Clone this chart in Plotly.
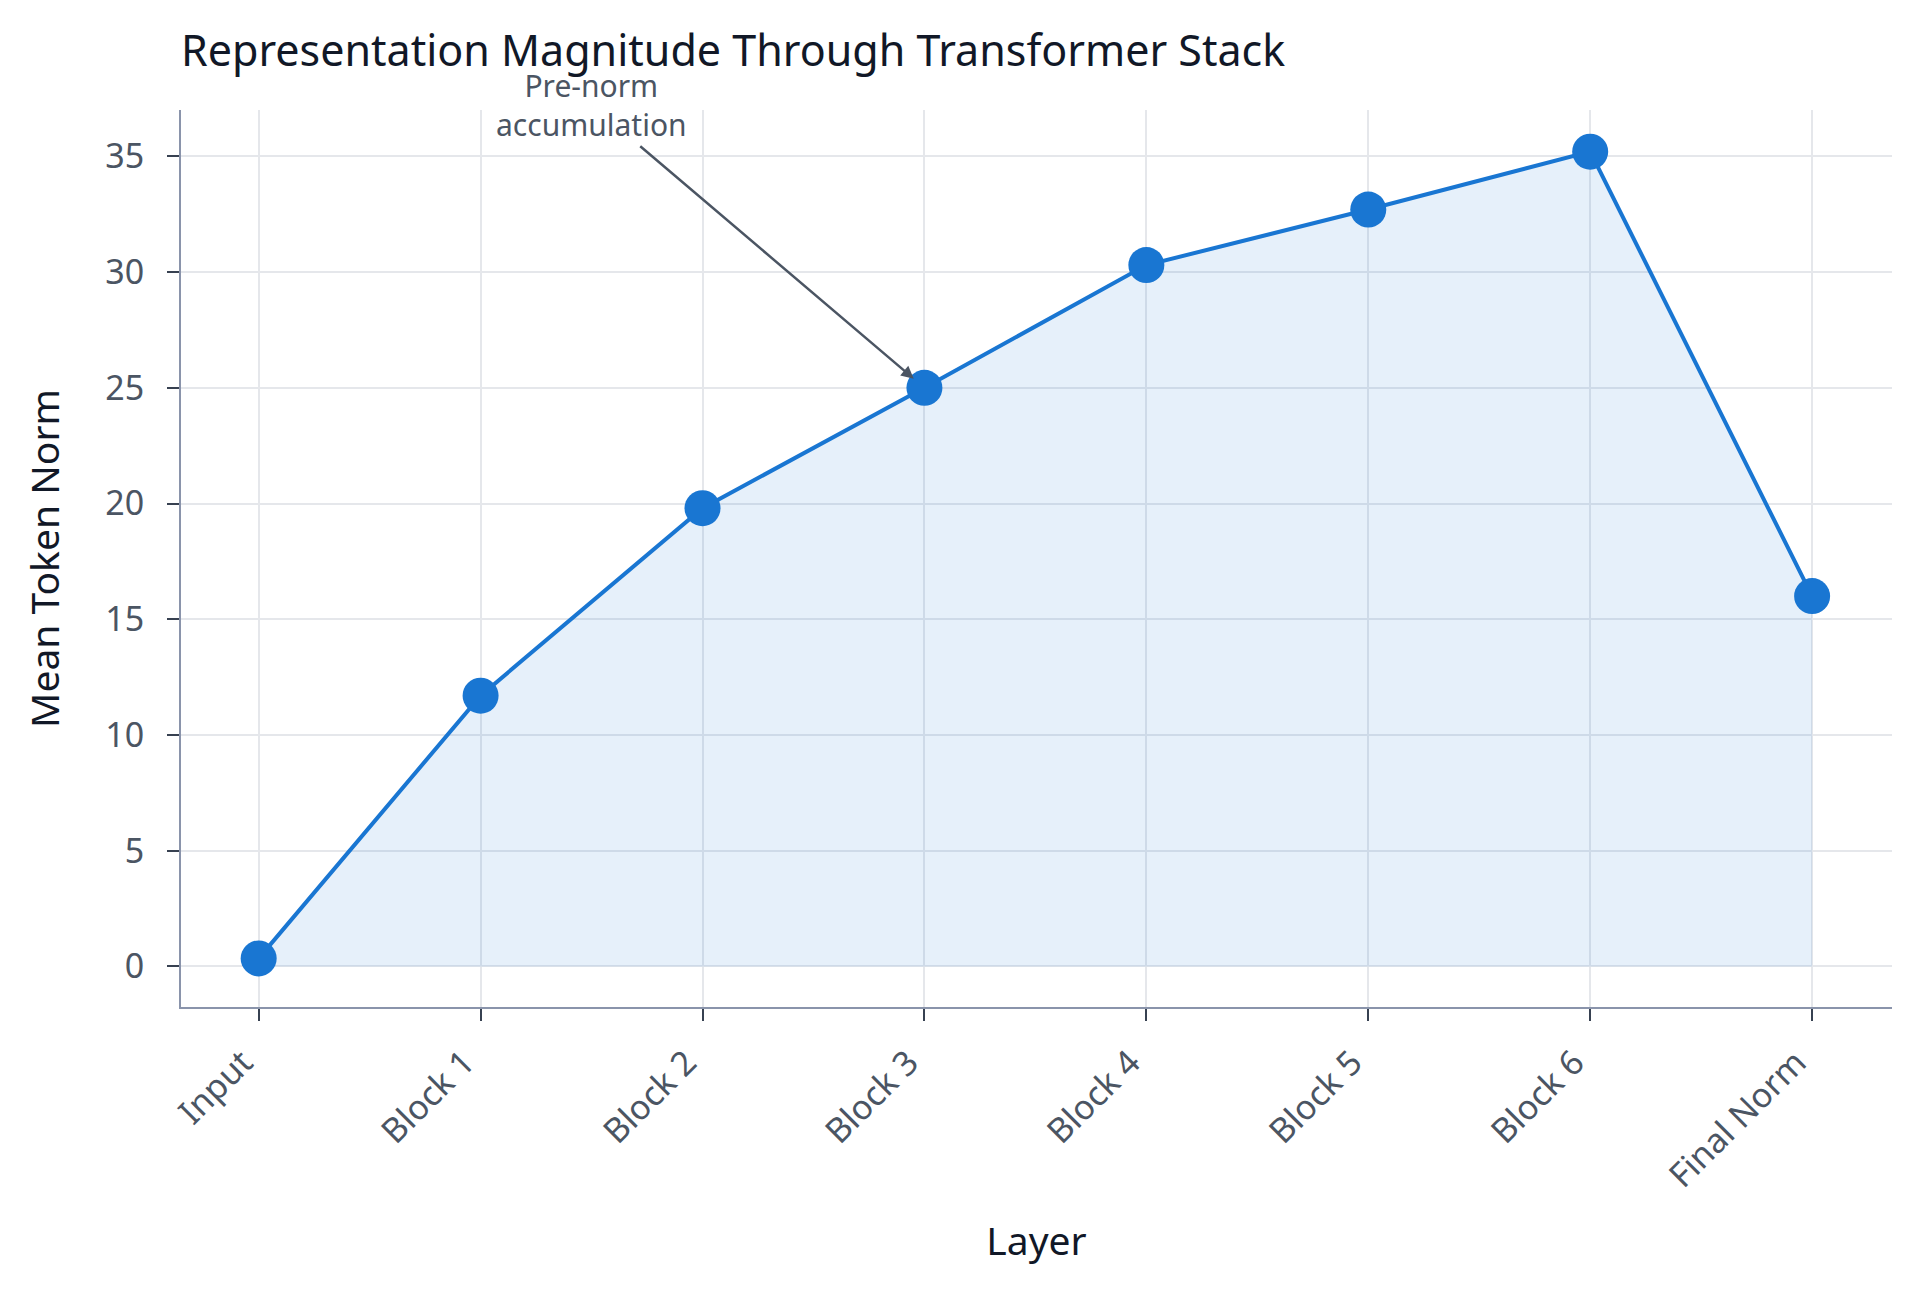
import plotly.graph_objects as go

layers = ["Input", "Block 1", "Block 2", "Block 3", "Block 4", "Block 5", "Block 6", "Final Norm"]
mean_norm = [0.35, 11.7, 19.8, 25.0, 30.3, 32.7, 35.2, 16.0]
y_ticks = [0, 5, 10, 15, 20, 25, 30, 35]

blue = "#1976D2"
slate = "#4B5563"
ink = "#111827"
font = "Noto Sans"

fig = go.Figure()

fig.add_trace(go.Scatter(
    x=layers,
    y=mean_norm,
    mode="lines+markers",
    line={"color": blue, "width": 4},
    marker={"color": blue, "size": 36},
    fill="tozeroy",
    fillcolor="rgba(25,118,210,0.11)",
    showlegend=False,
))

fig.add_annotation(
    x="Block 3", y=mean_norm[3],
    xref="x", yref="y",
    text="Pre-norm<br>accumulation",
    showarrow=True,
    arrowhead=2, arrowsize=1, arrowwidth=2.5,
    arrowcolor=slate,
    standoff=14,
    ax=-333, ay=-283,
    font={"family": font, "size": 30, "color": slate},
)

fig.update_xaxes(
    type="category",
    range=[-0.35, 7.36],
    tickangle=-45,
    tickfont={"family": font, "size": 34, "color": slate},
    ticks="outside", ticklen=12, tickwidth=2, tickcolor="#374151",
    ticklabelstandoff=8,
    ticklabelshift=-16,
    showline=True, linecolor="#8A94AB", linewidth=2,
    showgrid=True, gridcolor="#E5E7EB", gridwidth=2,
    automargin=False,
    title={"text": "Layer", "standoff": 32,
           "font": {"family": font, "size": 39, "color": ink}},
)
fig.update_yaxes(
    range=[-1.75, 37],
    tickvals=y_ticks,
    tickfont={"family": font, "size": 34, "color": slate},
    ticks="outside", ticklen=12, tickwidth=2, tickcolor="#374151",
    ticklabelstandoff=16,
    showline=True, linecolor="#8A94AB", linewidth=2,
    showgrid=True, gridcolor="#E5E7EB", gridwidth=2,
    zeroline=False,
    automargin=False,
    title={"text": "Mean Token Norm", "standoff": 34,
           "font": {"family": font, "size": 39, "color": ink}},
)

fig.update_layout(
    width=1920,
    height=1292,
    margin={"l": 173, "r": 36, "t": 102, "b": 293},
    plot_bgcolor="white",
    paper_bgcolor="white",
    title={
        "text": "Representation Magnitude Through Transformer Stack",
        "font": {"family": font, "size": 43, "color": ink},
        "xref": "paper", "x": 0, "xanchor": "left",
        "yref": "container", "y": 1 - 43 / 1292, "yanchor": "middle",
    },
)

fig.write_html("out.html")
